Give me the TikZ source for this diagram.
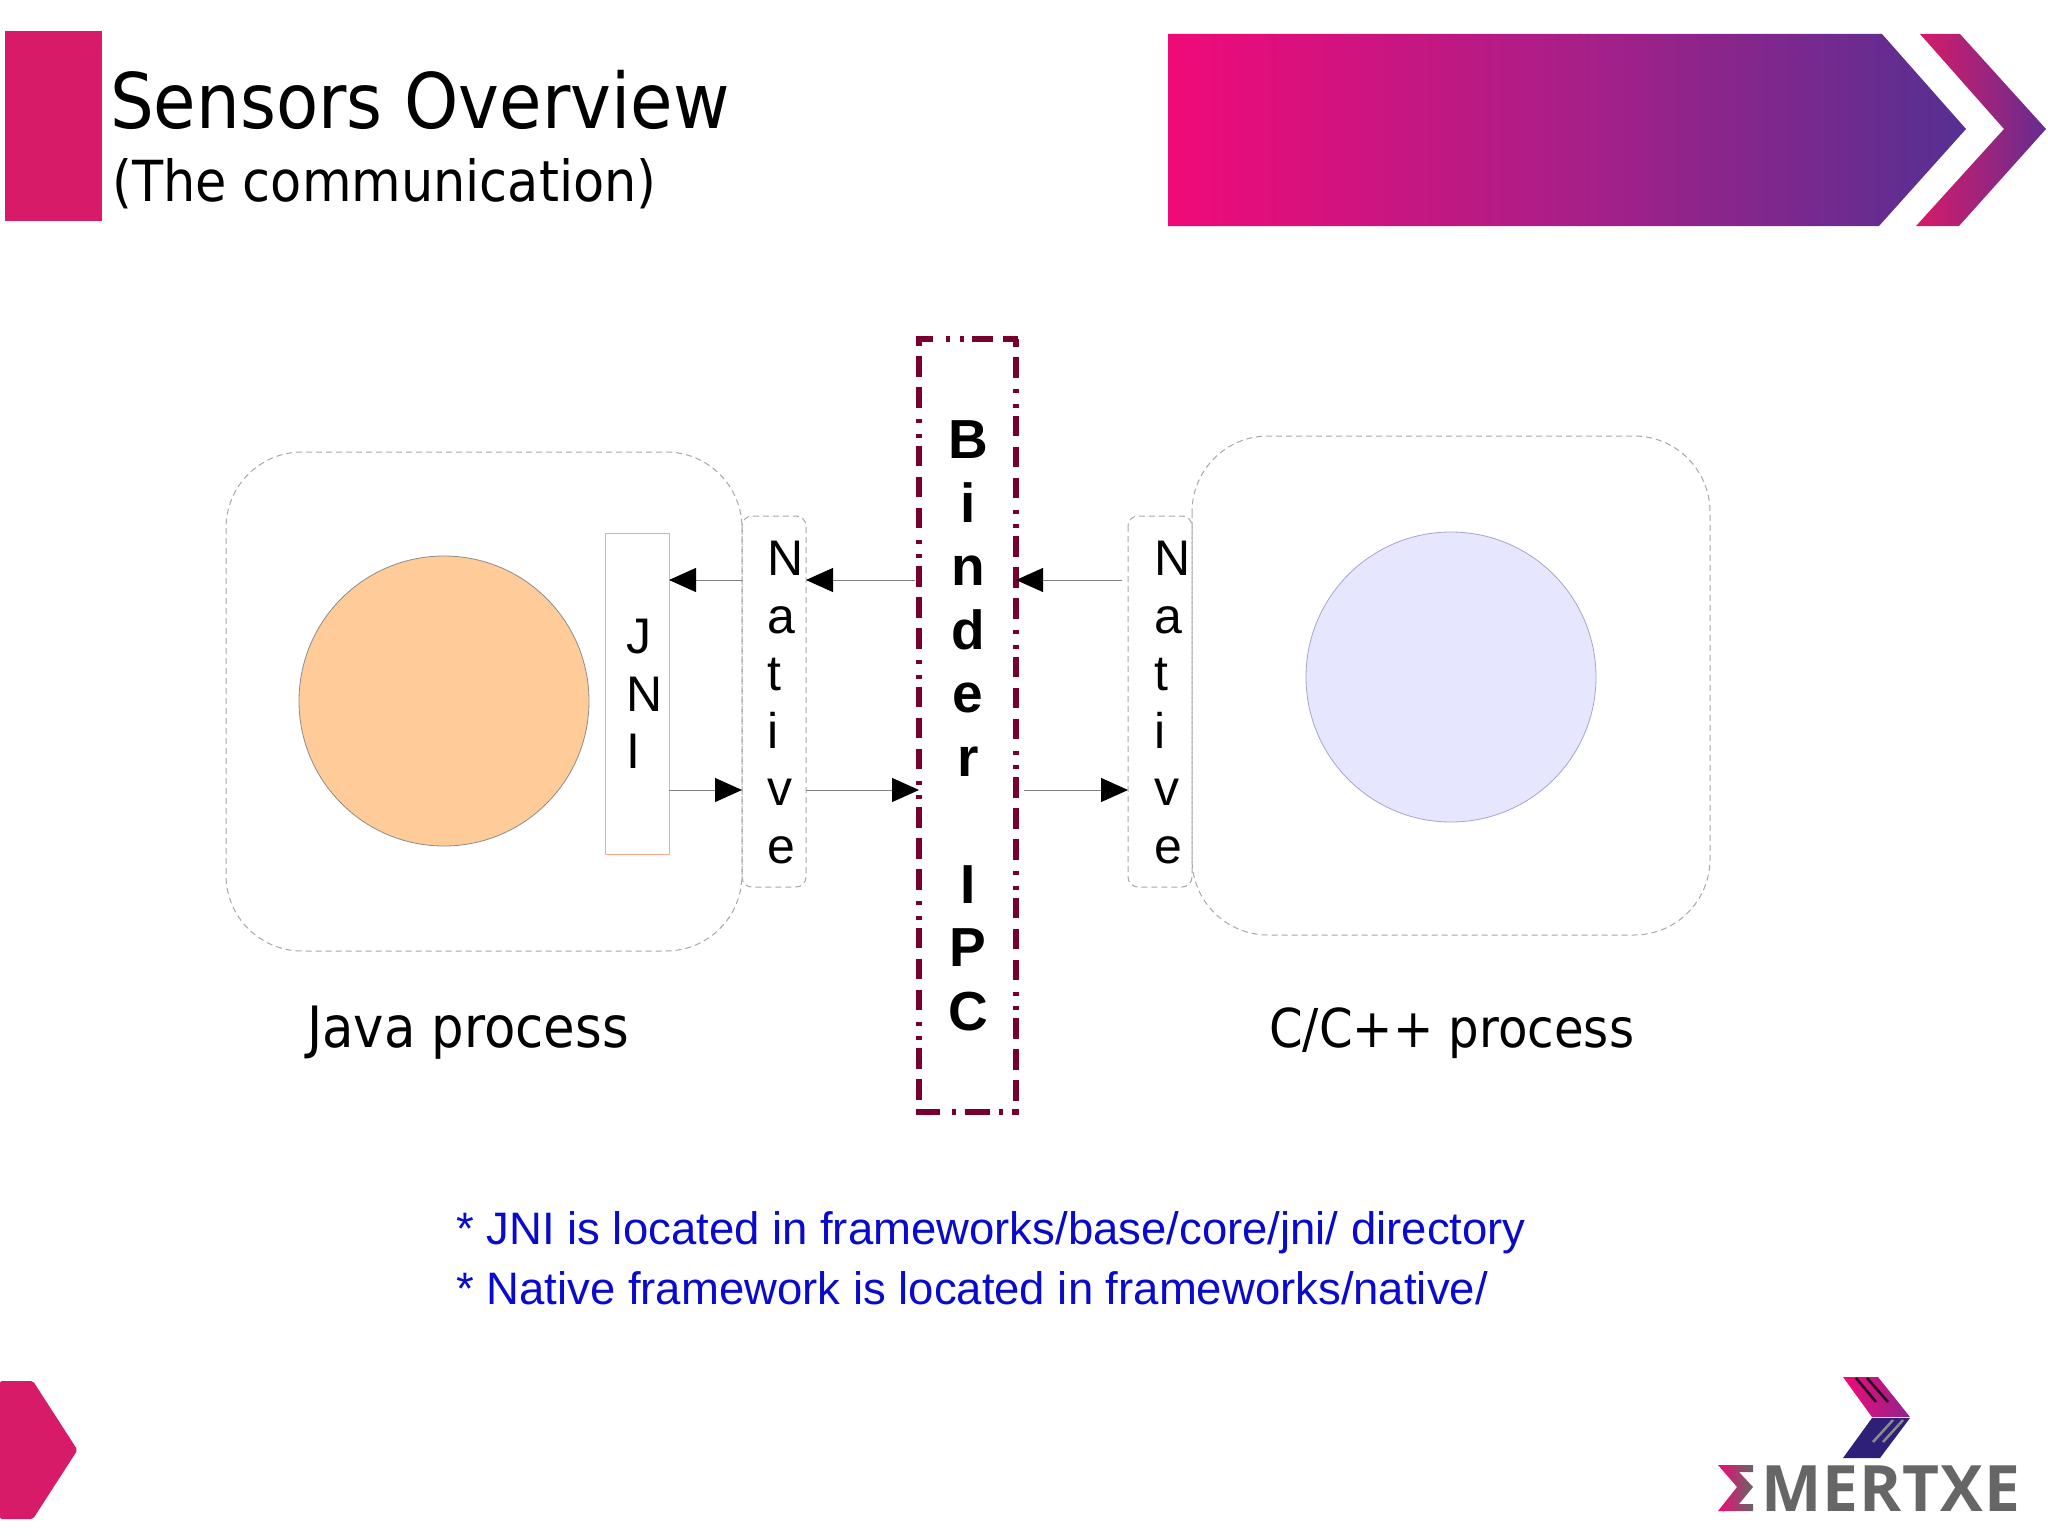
\documentclass[tikz,border=0pt]{standalone}
\usepackage{fontspec}
\setmainfont{Liberation Sans}
\newfontfamily\titlefont{DejaVu Sans Condensed}
\newfontfamily\logofont{Open Sans}
\usetikzlibrary{arrows.meta,shadings}
\definecolor{brandpink}{HTML}{D81B68}
\definecolor{bannerstart}{HTML}{F00A78}
\definecolor{bannermid}{HTML}{A81F88}
\definecolor{bannerend}{HTML}{553092}
\definecolor{binderred}{HTML}{78002E}
\definecolor{notecolor}{HTML}{0A0ACC}
\definecolor{logogray}{HTML}{666666}
\definecolor{logoblue}{HTML}{2E2078}
\definecolor{dashgray}{HTML}{A8A8A8}
\tikzset{
  x=1pt,y=-1pt,
  procbox/.style={draw=dashgray,line width=1pt,dash pattern=on 6pt off 4pt,rounded corners=76pt},
  nativebox/.style={draw=dashgray,line width=1pt,dash pattern=on 6pt off 4pt,rounded corners=10pt},
  flow/.style={draw=black!50,line width=1pt,-{Triangle[length=27pt,width=24pt,color=black,fill=black]}},
  vlabel/.style={font=\fontsize{50}{57.5}\selectfont,align=left,inner sep=0pt,anchor=north west},
  blabel/.style={font=\fontsize{55}{63.5}\selectfont\bfseries,align=center,inner sep=0pt},
  titletext/.style={inner sep=0pt,anchor=base west},
  bindervert/.style={binderred,line width=6.5pt,dash pattern=on 20.7pt off 10.3pt on 20.7pt off 10.3pt on 20.7pt off 11.3pt on 4pt off 10.5pt on 4pt off 8pt}
}
\begin{document}
\begin{tikzpicture}
\useasboundingbox (0,0) rectangle (2048,1536);
\fill[white] (0,0) rectangle (2048,1536);
% header
\fill[brandpink] (5,31) rectangle (102,221);
\node[titletext,font=\titlefont\fontsize{76.7}{80}\selectfont] (title) at (110,129) {Sensors Overview};
\node[titletext,font=\titlefont\fontsize{56.6}{58}\selectfont] (subtitle) at (112,201) {(The communication)};
% banner
\begin{scope}
\clip (1168,34) -- (1882,34) -- (1966,129) -- (1879,226) -- (1168,226) -- cycle;
\shade[left color=bannerstart,right color=bannermid,middle color=bannerstart!50!bannermid] (1168,34) rectangle (1580,226);
\shade[left color=bannermid,right color=bannerend] (1579,34) rectangle (1966,226);
\end{scope}
\begin{scope}
\clip (1920,34) -- (1960,34) -- (2046,129) -- (1959,226) -- (1916,226) -- (2004,129) -- cycle;
\shade[left color=brandpink,right color=bannerend!80!bannermid] (1916,34) rectangle (2046,226);
\end{scope}
% processes
\path[procbox] (226,452) rectangle (742,951);
\path[procbox] (1192,436) rectangle (1710,935);
\node[draw=black!45,line width=0.8pt,circle,minimum size=290pt,inner sep=0pt,fill={rgb,255:red,255;green,204;blue,153}] (javacircle) at (444,701) {};
\node[draw={rgb,255:red,165;green,165;blue,205},line width=0.8pt,circle,minimum size=290pt,inner sep=0pt,fill={rgb,255:red,230;green,230;blue,255}] (ccircle) at (1451,677) {};
% boxes
\draw[draw={rgb,255:red,255;green,165;blue,145},line width=1pt] (605,533) rectangle (669,854);
\coordinate (jnitop) at (669,580);
\coordinate (jnibot) at (669,790);
\path[nativebox] (742,516) rectangle (806,887);
\path[nativebox] (1128,516) rectangle (1192,887);
\node[vlabel] (jnilabel) at (626,619) {J\\N\\I};
\node[vlabel] (nativel) at (767,541) {N\\a\\t\\i\\v\\e};
\node[vlabel] (nativer) at (1154,541) {N\\a\\t\\i\\v\\e};
% binder
\coordinate (btl) at (919,339); \coordinate (btr) at (1016,339);
\coordinate (bbl) at (919,1112); \coordinate (bbr) at (1016,1112);
\draw[bindervert,dash phase=14pt] (btl) -- (bbl);
\draw[bindervert,dash phase=44pt] (btr) -- (bbr);
\draw[binderred,line width=6.5pt,dash pattern=on 17pt off 13pt on 4pt off 10pt on 4pt off 8pt on 21pt off 10pt on 15pt] (915.75,339) -- (1019.25,339);
\draw[binderred,line width=6.5pt,dash pattern=on 24pt off 12pt on 4pt off 9pt on 25pt off 9pt on 4pt off 9pt on 8pt off 9pt] (915.75,1112) -- (1019.25,1112);
\node[blabel] (binder) at (968,726) {B\\i\\n\\d\\e\\r\\ \\I\\P\\C};
% flows
\coordinate (nlt) at (742,580); \coordinate (nlrt) at (806,580);
\coordinate (blt) at (915,580); \coordinate (brt) at (1016,580);
\coordinate (nrlt) at (1122,580);
\coordinate (nlb) at (742,790); \coordinate (nlrb) at (806,790);
\coordinate (blb) at (919,790); \coordinate (brb) at (1024,790);
\coordinate (nrlb) at (1128,790);
\draw[flow] (nlt) -- (jnitop);
\draw[flow] (blt) -- (nlrt);
\draw[flow] (nrlt) -- (brt);
\draw[flow] (jnibot) -- (nlb);
\draw[flow] (nlrb) -- (blb);
\draw[flow] (brb) -- (nrlb);
% captions
\node[titletext,font=\titlefont\fontsize{57}{58}\selectfont] (javalabel) at (307,1047) {Java process};
\node[titletext,font=\titlefont\fontsize{53.6}{56}\selectfont] (clabel) at (1269,1047) {C/C++ process};
\node[font=\fontsize{45.5}{60}\selectfont,text=notecolor,align=left,inner sep=0pt,anchor=north west] (note) at (456,1211) {* JNI is located in frameworks/base/core/jni/ directory\\* Native framework is located in frameworks/native/};
% bottom-left marker
\fill[brandpink,rounded corners=2pt] (0,1381) -- (33,1381) -- (77.5,1450) -- (33,1519) -- (0,1519) -- cycle;
% logo
\begin{scope}
\clip (1843,1377) -- (1878,1377) -- (1910,1417) -- (1872,1417) -- cycle;
\shade[left color=bannerstart,right color=bannermid!70!bannerend] (1843,1377) rectangle (1910,1417);
\end{scope}
\fill[logoblue] (1872,1418) -- (1910,1418) -- (1880,1458) -- (1843,1458) -- cycle;
\draw[black!80!bannermid,line width=2.5pt] (1856,1378) -- (1876,1402) (1867,1378) -- (1888,1402);
\draw[black!45,line width=2.5pt] (1893,1420) -- (1873,1442) (1903,1420) -- (1883,1442);
\begin{scope}
\clip (1718,1465) -- (1753,1465) -- (1753,1472) -- (1739,1472) -- (1753,1487) -- (1739,1504) -- (1753,1504) -- (1753,1511) -- (1718,1511) -- (1737,1487) -- cycle;
\shade[left color=bannerstart,right color=logogray] (1718,1465) rectangle (1753,1511);
\end{scope}
\node[font=\logofont\fontsize{64}{64}\selectfont\bfseries\addfontfeature{LetterSpace=1.5},text=logogray,inner sep=0pt,anchor=base west] (logotext) at (1761,1511) {MERTXE};
\end{tikzpicture}
\end{document}
